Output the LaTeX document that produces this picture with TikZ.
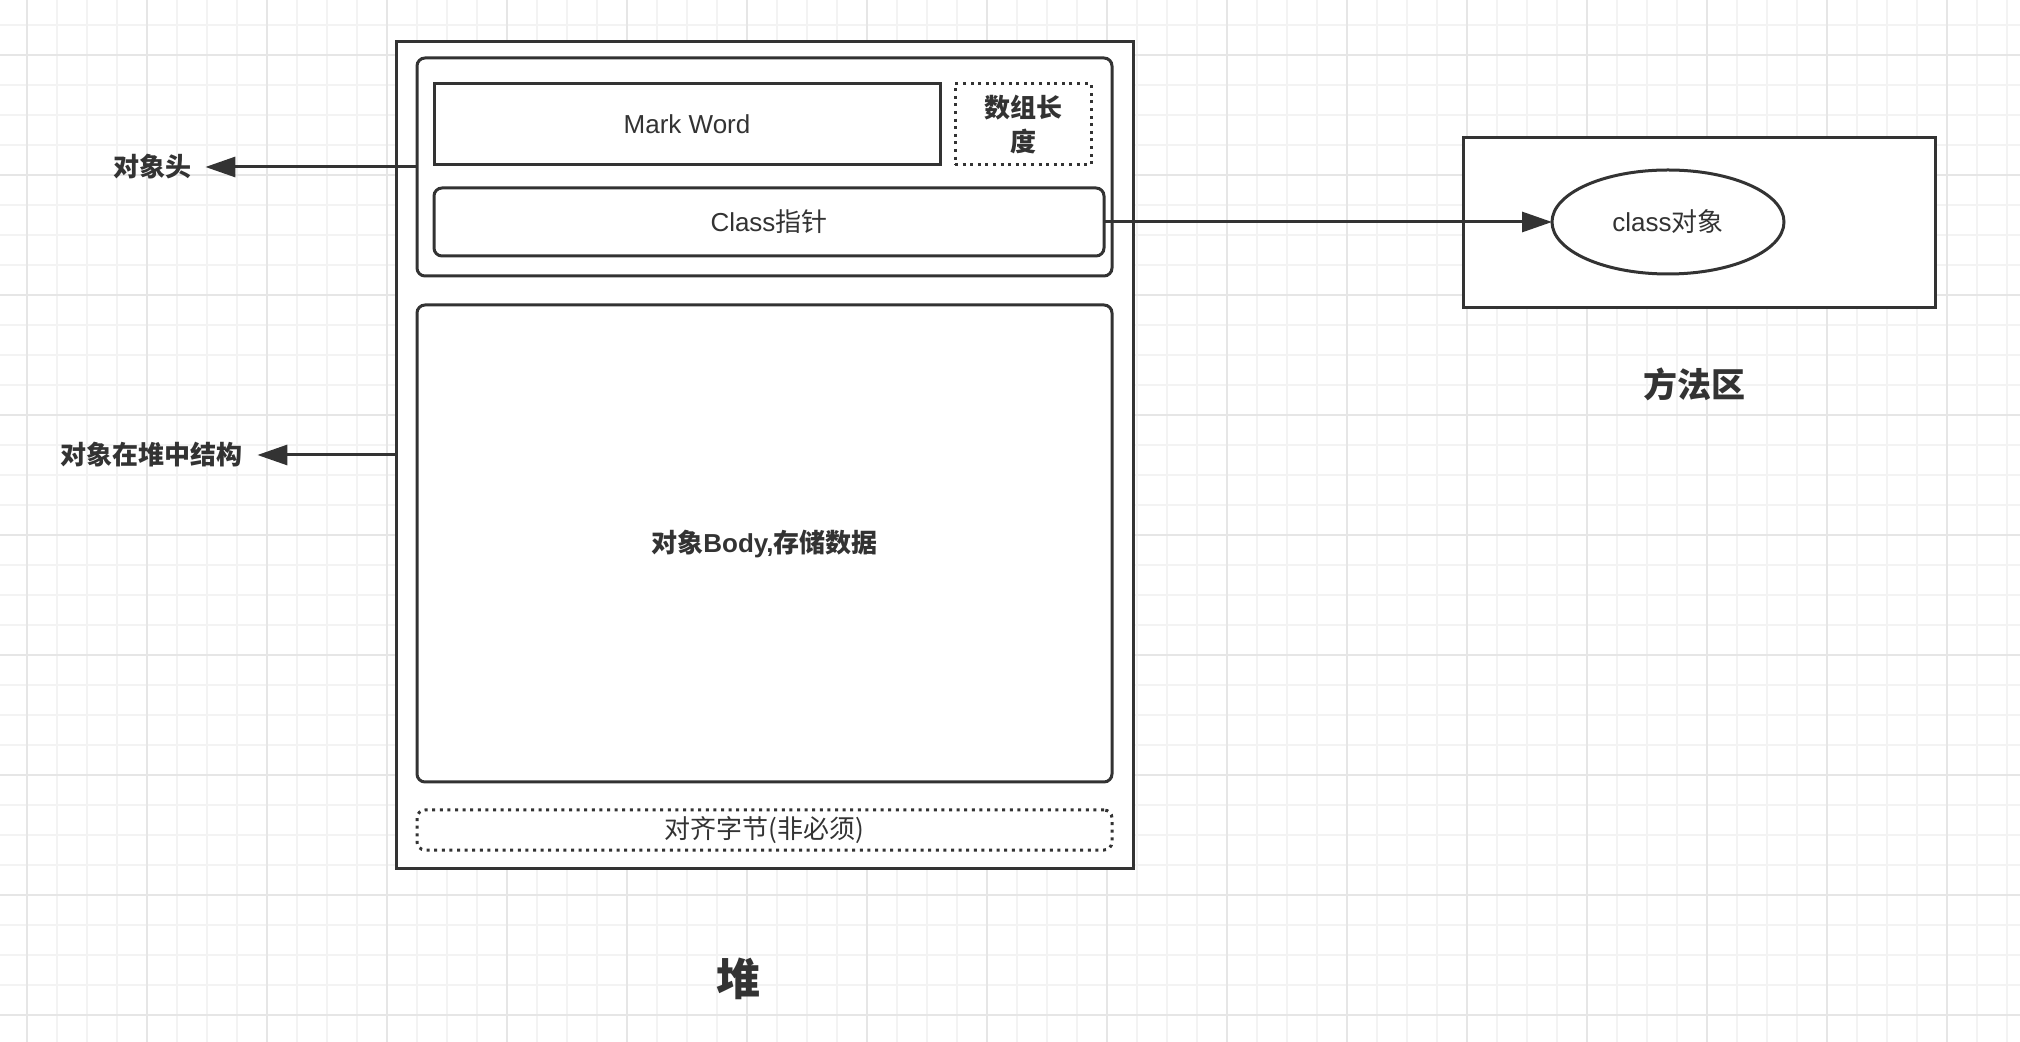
\documentclass[tikz,border=0pt]{standalone}
\usepackage{fontspec}
\setmainfont{Liberation Sans}
\newfontfamily\cjk{Noto Sans CJK SC}
\usetikzlibrary{arrows.meta,shapes.geometric}
\definecolor{ink}{HTML}{333333}
\definecolor{gridminor}{HTML}{F3F3F3}
\definecolor{gridmajor}{HTML}{E6E6E6}
\begin{document}
\begin{tikzpicture}[x=0.5pt,y=-0.5pt,
  box/.style={draw=ink, line width=1.5pt, fill=white, inner sep=0pt, outer sep=0pt, text=ink,
    font=\fontsize{13pt}{15pt}\selectfont},
  rbox/.style={box, rounded corners=4pt},
  dotbox/.style={box, dash pattern=on 1.5pt off 2.3pt},
  lbl/.style={text=ink, inner sep=7pt, font=\fontsize{13pt}{15pt}\selectfont},
  title/.style={text=ink, inner sep=0pt},
  conn/.style={draw=ink, line width=1.5pt, -{Triangle[length=15pt,width=10pt]}}
]
\useasboundingbox (0,0) rectangle (2020,1042);
\fill[white] (0,0) rectangle (2020,1042);
% grid
\foreach \i in {0,...,66} \draw[gridminor, line width=1pt] ({27+30*\i},0) -- ({27+30*\i},1042);
\foreach \j in {0,...,34} \draw[gridminor, line width=1pt] (0,{25+30*\j}) -- (2020,{25+30*\j});
\foreach \i in {0,...,16} \draw[gridmajor, line width=1pt] ({27+120*\i},0) -- ({27+120*\i},1042);
\foreach \j in {0,...,8} \draw[gridmajor, line width=1pt] (0,{55+120*\j}) -- (2020,{55+120*\j});

% heap
\node[box, minimum width=368.5pt, minimum height=413pt] (heap) at (764.5,455) {};
\node[rbox, minimum width=347.5pt, minimum height=109pt] (header) at (764.5,167) {};
\node[box, minimum width=253pt, minimum height=40.5pt] (mark) at (687,124.5) {Mark Word};
\node[dotbox, minimum width=68pt, minimum height=40.5pt, align=center] (arrlen) at (1023,124.5)
  {\cjk\bfseries 数组长\\[2pt]\cjk\bfseries 度};
\node[rbox, minimum width=335pt, minimum height=34pt] (classptr) at (769,222) {Class{\cjk 指针}};
\node[rbox, minimum width=347.5pt, minimum height=238.5pt] (body) at (764.5,543.5)
  {{\cjk\bfseries 对象}\textbf{Body,}{\cjk\bfseries 存储数据}};
\node[dotbox, rounded corners=4pt, minimum width=347.5pt, minimum height=20pt] (pad) at (764.5,830)
  {\cjk 对齐字节(非必须)};
\node[title, font=\fontsize{22pt}{26pt}\selectfont] (heaplbl) at (738,979) {\cjk\bfseries 堆};

% method area
\node[box, minimum width=236pt, minimum height=85pt] (method) at (1699,223) {};
\node[box, ellipse, minimum width=116pt, minimum height=52pt] (clsobj) at (1668,222) {class{\cjk 对象}};
\node[title, font=\fontsize{17pt}{20pt}\selectfont] (methodlbl) at (1694,384) {\cjk\bfseries 方法区};

% left labels
\node[lbl] (hdrlbl) at (152,167) {\cjk\bfseries 对象头};
\node[lbl] (heaplbl2) at (152,455) {\cjk\bfseries 对象在堆中结构};

% connectors
\draw[conn] (header.west) -- (hdrlbl.east);
\draw[conn] (heap.west) -- (heaplbl2.east);
\draw[conn] (classptr.east) -- (clsobj.west);
\end{tikzpicture}
\end{document}
